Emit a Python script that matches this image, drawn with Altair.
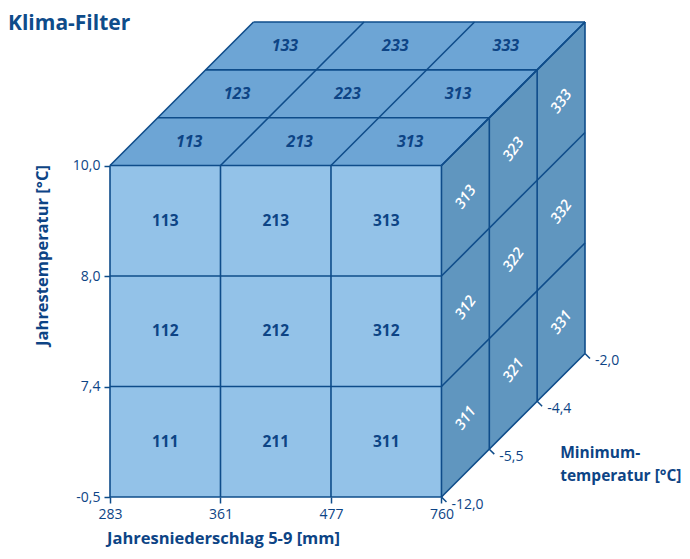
import json
import pandas as pd
import altair as alt

# ---------------- data ----------------
x_labels = ["283", "361", "477", "760"]          # Jahresniederschlag 5-9 [mm]
y_labels = ["-0,5", "7,4", "8,0", "10,0"]        # Jahrestemperatur [°C]
z_labels = ["-12,0", "-5,5", "-4,4", "-2,0"]     # Minimumtemperatur [°C]

# front face, rows bottom -> top, columns left -> right
front_labels = [
    ["111", "211", "311"],
    ["112", "212", "312"],
    ["113", "213", "313"],
]
# top face, rows front -> back, columns left -> right
top_labels = [
    ["113", "213", "313"],
    ["123", "223", "313"],
    ["133", "233", "333"],
]
# right face, columns front -> back, rows bottom -> top
side_labels = [
    ["311", "312", "313"],
    ["321", "322", "323"],
    ["331", "332", "333"],
]

# ---------------- style ----------------
D = 0.433            # oblique depth factor
N = 3
FONT = "Open Sans"
NAVY = "#0E4C8A"
TXT = "#0D4485"
FRONT = "#93C2E8"
TOP = "#6DA5D5"
SIDE = "#6096BF"

# ---------------- tables ----------------
front_df = pd.DataFrame([{"u": u, "v": v, "label": front_labels[v][u]}
                         for v in range(N) for u in range(N)])
top_df = pd.DataFrame([{"cell": f"t{u}{w}", "u": u, "t": t}
                       for w in range(N) for u in range(N) for t in (w, w + 1)])
top_txt = pd.DataFrame([{"u": u, "w": w, "label": top_labels[w][u]}
                        for w in range(N) for u in range(N)])
side_df = pd.DataFrame([{"cell": f"s{v}{w}", "v": v, "t": t}
                        for w in range(N) for v in range(N) for t in (w, w + 1)])
side_txt = pd.DataFrame([{"v": v, "w": w, "label": side_labels[w][v]}
                         for w in range(N) for v in range(N)])

segs = []
for k in range(N + 1):
    segs.append((k, 0, 0, k, N, 0))      # front verticals
    segs.append((0, k, 0, N, k, 0))      # front horizontals
    segs.append((k, N, 0, k, N, N))      # top, constant u
    segs.append((N, k, 0, N, k, N))      # side, constant v
for k in range(1, N + 1):
    segs.append((0, N, k, N, N, k))      # top, constant depth
    segs.append((N, 0, k, N, N, k))      # side, constant depth
seg_df = pd.DataFrame(segs, columns=["u1", "v1", "w1", "u2", "v2", "w2"])

z_df = pd.DataFrame({"w": list(range(N + 1)), "label": z_labels})
note_df = pd.DataFrame({"w": [1.5], "label": ["Minimum-\ntemperatur [°C]"]})

# ---------------- encodings ----------------
EXT = N + N * D
xs = alt.Scale(domain=[0, EXT], nice=False, zero=False)
ys = alt.Scale(domain=[0, EXT], nice=False, zero=False)

X = alt.X("px:Q", scale=xs, axis=alt.Axis(
    values=[0, 1, 2, 3], labelExpr=f"{json.dumps(x_labels)}[datum.value]",
    grid=False, domain=False, tickColor=NAVY, tickSize=6, tickWidth=1.5,
    labelColor=TXT, labelFont=FONT, labelFontSize=14, labelPadding=4,
    labelFlush=False, labelAngle=0,
    title="Jahresniederschlag 5-9 [mm]", titleColor=TXT, titleFont=FONT,
    titleFontSize=16.5, titleFontWeight="bold", titleX=113, titleY=41,
    titleAlign="center", titleBaseline="middle"))
Y = alt.Y("py:Q", scale=ys, axis=alt.Axis(
    values=[0, 1, 2, 3], labelExpr=f"{json.dumps(y_labels)}[datum.value]",
    grid=False, domain=False, tickColor=NAVY, tickSize=6, tickWidth=1.5,
    labelColor=TXT, labelFont=FONT, labelFontSize=14, labelPadding=4,
    labelFlush=False,
    title="Jahrestemperatur [°C]", titleColor=TXT, titleFont=FONT,
    titleFontSize=16.5, titleFontWeight="bold", titleX=-68, titleY=233,
    titleAlign="center", titleBaseline="middle", titleAngle=270))

front = alt.Chart(front_df).transform_calculate(
    px="datum.u", px2="datum.u + 1", py="datum.v", py2="datum.v + 1"
).mark_rect(fill=FRONT, strokeWidth=0).encode(x=X, x2="px2:Q", y=Y, y2="py2:Q")

top = alt.Chart(top_df).transform_calculate(
    px=f"datum.u + datum.t * {D}", px2=f"datum.u + 1 + datum.t * {D}",
    py=f"{N} + datum.t * {D}"
).mark_area(orient="horizontal", fill=TOP, strokeWidth=0).encode(
    y=Y, x=X, x2="px2:Q", detail="cell:N")

side = alt.Chart(side_df).transform_calculate(
    px=f"{N} + datum.t * {D}", py=f"datum.v + datum.t * {D}",
    py2=f"datum.v + 1 + datum.t * {D}"
).mark_area(orient="vertical", fill=SIDE, strokeWidth=0).encode(
    x=X, y=Y, y2="py2:Q", detail="cell:N")

lines = alt.Chart(seg_df).transform_calculate(
    px=f"datum.u1 + datum.w1 * {D}", py=f"datum.v1 + datum.w1 * {D}",
    px2=f"datum.u2 + datum.w2 * {D}", py2=f"datum.v2 + datum.w2 * {D}"
).mark_rule(color=NAVY, strokeWidth=1.6).encode(x=X, y=Y, x2="px2:Q", y2="py2:Q")

front_text = alt.Chart(front_df).transform_calculate(
    px="datum.u + 0.5", py="datum.v + 0.5"
).mark_text(font=FONT, fontSize=15.5, fontWeight="bold", color=TXT).encode(
    x=X, y=Y, text="label:N")

top_text = alt.Chart(top_txt).transform_calculate(
    px=f"datum.u + 0.5 + (datum.w + 0.5) * {D}", py=f"{N} + (datum.w + 0.5) * {D}"
).mark_text(font=FONT, fontSize=16, fontWeight="bold", fontStyle="italic",
            color=TXT).encode(x=X, y=Y, text="label:N")

side_text = alt.Chart(side_txt).transform_calculate(
    px=f"{N} + (datum.w + 0.5) * {D}", py=f"datum.v + 0.5 + (datum.w + 0.5) * {D}"
).mark_text(font=FONT, fontSize=15, fontWeight=600, fontStyle="italic",
            color="white", angle=306).encode(x=X, y=Y, text="label:N")

z_ticks = alt.Chart(z_df).transform_calculate(
    px=f"{N} + datum.w * {D}", py=f"datum.w * {D}",
    px2=f"{N} + datum.w * {D} + 0.045", py2=f"datum.w * {D} - 0.045"
).mark_rule(color=NAVY, strokeWidth=1.5).encode(x=X, y=Y, x2="px2:Q", y2="py2:Q")

z_text = alt.Chart(z_df).transform_calculate(
    px=f"{N} + datum.w * {D}", py=f"datum.w * {D}"
).mark_text(font=FONT, fontSize=14, color=TXT, align="left", baseline="middle",
            dx=10, dy=8).encode(x=X, y=Y, text="label:N")

note = alt.Chart(note_df).transform_calculate(
    px=f"{N} + datum.w * {D}", py=f"datum.w * {D}"
).mark_text(font=FONT, fontSize=15.5, fontWeight="bold", color=TXT, align="left",
            baseline="alphabetic", dx=47, dy=33, lineBreak="\n",
            lineHeight=23).encode(x=X, y=Y, text="label:N")

chart = alt.layer(
    front, top, side, lines, front_text, top_text, side_text, z_ticks, z_text, note
).properties(
    width=475, height=475,
    autosize=alt.AutoSizeParams(type="none"),
    padding={"left": 102, "top": 14, "right": 97, "bottom": 54},
    title=alt.TitleParams("Klima-Filter", anchor="start", frame="group", dx=-102,
                          dy=34, baseline="alphabetic", font=FONT, fontSize=21,
                          fontWeight="bold", color=NAVY),
).configure_view(stroke=None)

chart.save("out.html", embed_options={"renderer": "svg", "actions": False})
